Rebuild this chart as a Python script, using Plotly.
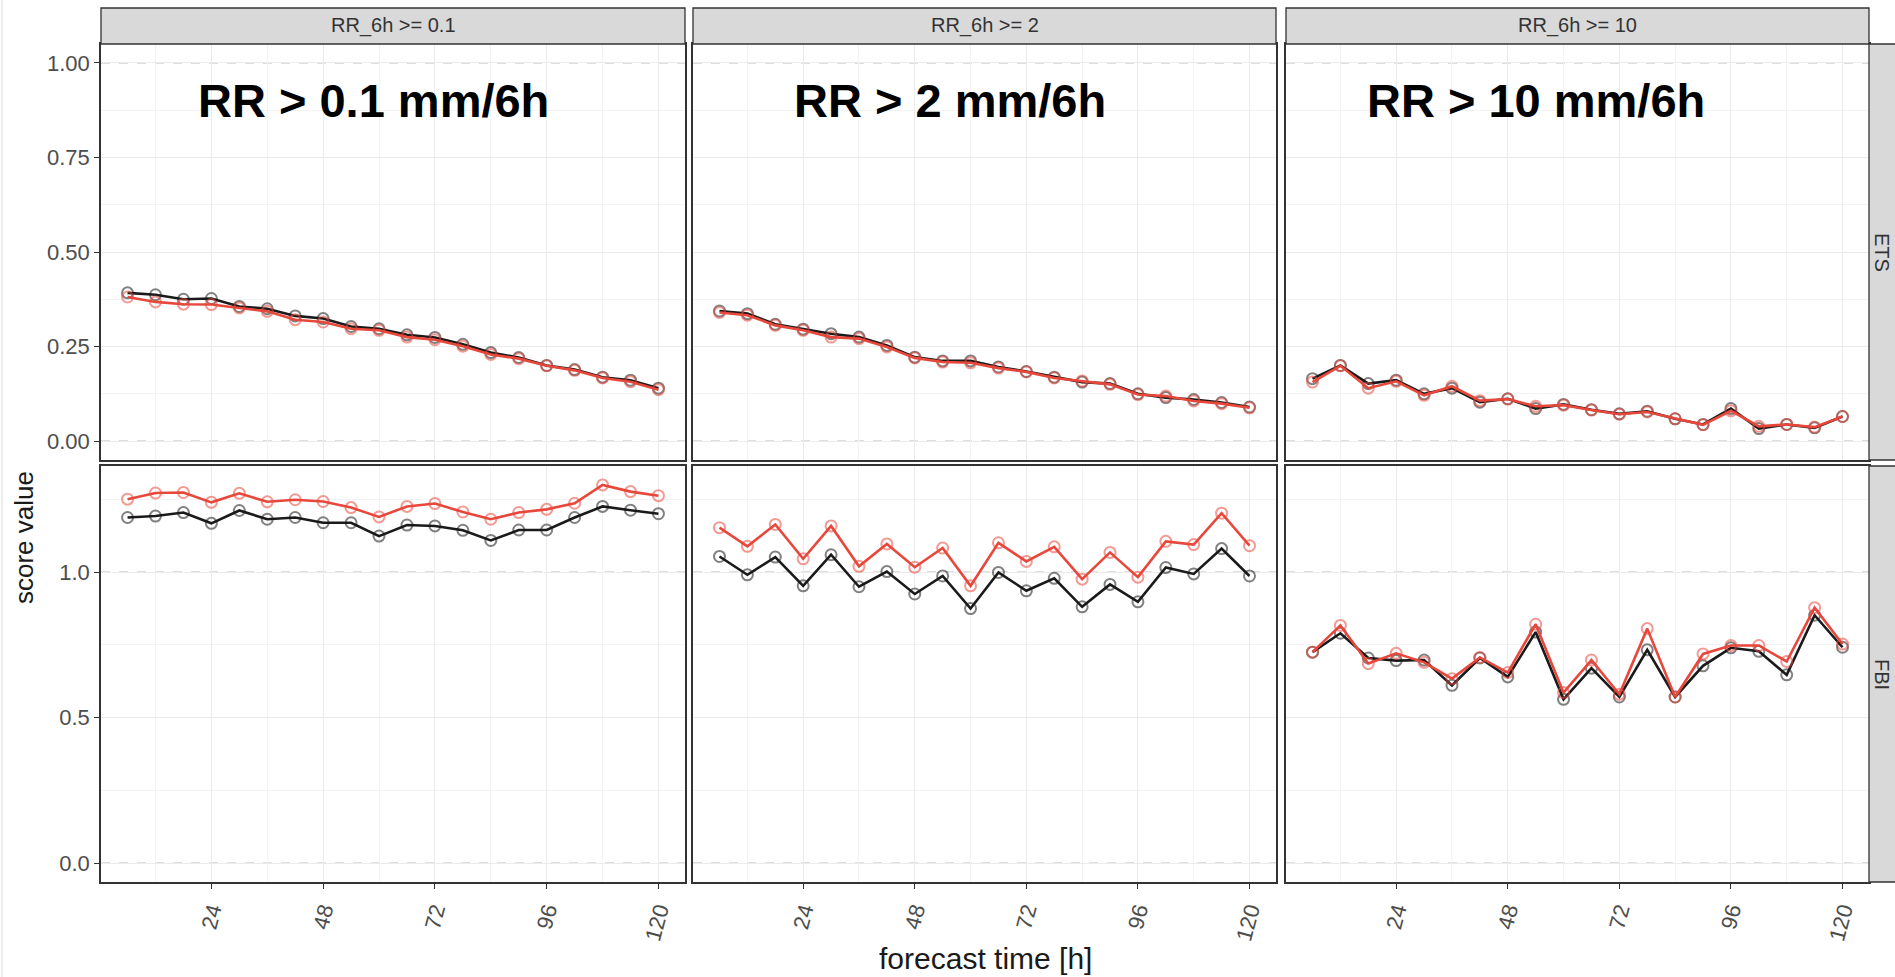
import plotly.graph_objects as go

W, H = 1895, 977

# ---------------- data ----------------
lead_time = [6, 12, 18, 24, 30, 36, 42, 48, 54, 60, 66, 72, 78, 84, 90, 96, 102, 108, 114, 120]
thresholds = ["RR_6h >= 0.1", "RR_6h >= 2", "RR_6h >= 10"]
panel_titles = ["RR > 0.1 mm/6h", "RR > 2 mm/6h", "RR > 10 mm/6h"]
scores = ["ETS", "FBI"]

ets_black_01 = [0.392, 0.387, 0.375, 0.377, 0.356, 0.350, 0.331, 0.324, 0.303, 0.297,
                0.281, 0.274, 0.256, 0.234, 0.221, 0.200, 0.189, 0.169, 0.161, 0.140]
ets_red_01 = [0.381, 0.368, 0.362, 0.361, 0.352, 0.343, 0.321, 0.315, 0.297, 0.293,
              0.275, 0.268, 0.251, 0.229, 0.218, 0.199, 0.187, 0.167, 0.157, 0.136]
ets_black_2 = [0.344, 0.337, 0.309, 0.296, 0.284, 0.275, 0.253, 0.222, 0.212, 0.212,
               0.196, 0.184, 0.169, 0.156, 0.152, 0.125, 0.115, 0.110, 0.102, 0.090]
ets_red_2 = [0.340, 0.333, 0.306, 0.293, 0.275, 0.271, 0.249, 0.220, 0.209, 0.207,
             0.193, 0.183, 0.167, 0.159, 0.150, 0.123, 0.119, 0.106, 0.099, 0.088]
ets_black_10 = [0.165, 0.200, 0.152, 0.161, 0.125, 0.140, 0.103, 0.112, 0.086, 0.097,
                0.083, 0.072, 0.079, 0.059, 0.044, 0.086, 0.033, 0.044, 0.035, 0.065]
ets_red_10 = [0.156, 0.199, 0.140, 0.158, 0.121, 0.145, 0.107, 0.111, 0.092, 0.095,
              0.082, 0.071, 0.077, 0.059, 0.043, 0.080, 0.039, 0.044, 0.037, 0.065]

fbi_black_01 = [1.188, 1.193, 1.205, 1.168, 1.212, 1.182, 1.188, 1.170, 1.170, 1.124,
                1.162, 1.159, 1.144, 1.109, 1.145, 1.145, 1.188, 1.226, 1.213, 1.201]
fbi_red_01 = [1.251, 1.272, 1.274, 1.240, 1.271, 1.242, 1.249, 1.243, 1.222, 1.190,
              1.226, 1.236, 1.207, 1.182, 1.205, 1.216, 1.237, 1.300, 1.277, 1.263]
fbi_black_2 = [1.054, 0.991, 1.052, 0.953, 1.060, 0.950, 1.002, 0.925, 0.987, 0.875,
               0.999, 0.936, 0.979, 0.881, 0.958, 0.898, 1.016, 0.994, 1.081, 0.987]
fbi_red_2 = [1.153, 1.089, 1.164, 1.046, 1.159, 1.020, 1.097, 1.017, 1.083, 0.953,
             1.101, 1.037, 1.087, 0.976, 1.068, 0.983, 1.106, 1.095, 1.203, 1.091]
fbi_black_10 = [0.725, 0.790, 0.705, 0.696, 0.698, 0.611, 0.705, 0.640, 0.794, 0.563,
                0.670, 0.571, 0.733, 0.571, 0.678, 0.740, 0.728, 0.647, 0.852, 0.742]
fbi_red_10 = [0.725, 0.817, 0.686, 0.721, 0.690, 0.634, 0.707, 0.655, 0.821, 0.586,
              0.698, 0.580, 0.806, 0.571, 0.719, 0.748, 0.748, 0.693, 0.878, 0.753]

ets_black = [ets_black_01, ets_black_2, ets_black_10]
ets_red = [ets_red_01, ets_red_2, ets_red_10]
fbi_black = [fbi_black_01, fbi_black_2, fbi_black_10]
fbi_red = [fbi_red_01, fbi_red_2, fbi_red_10]

x_ticks = [24, 48, 72, 96, 120]
ets_ticks = [0.0, 0.25, 0.5, 0.75, 1.0]
ets_ticktext = ["0.00", "0.25", "0.50", "0.75", "1.00"]
fbi_ticks = [0.0, 0.5, 1.0]
fbi_ticktext = ["0.0", "0.5", "1.0"]
ref_lines = [0.0, 1.0]

# ---------------- geometry helpers ----------------
def px(x):
    return x / W

def py(y):
    return 1 - y / H

col_px = [(101, 685), (693, 1276), (1286, 1869)]
row_px = [(44, 460), (466, 882)]  # ETS, FBI

BLACK = "#1a1a1a"
RED = "#E8473B"
FONT = "Liberation Sans, Arial, sans-serif"
GRID = "#EBEBEB"
MINOR = "#F3F3F3"
BORDER = "#333333"

fig = go.Figure()
layout = dict(
    width=W, height=H,
    margin=dict(l=0, r=0, t=0, b=0),
    paper_bgcolor="white", plot_bgcolor="white",
    showlegend=False,
    font=dict(family=FONT, color="#4D4D4D"),
)
shapes = []
annotations = []

yranges = [[-0.05, 1.05], [-0.065, 1.365]]
series = [(ets_black, ets_red), (fbi_black, fbi_red)]

idx = 0
for r in range(2):
    for c in range(3):
        idx += 1
        xa = "xaxis" if idx == 1 else f"xaxis{idx}"
        ya = "yaxis" if idx == 1 else f"yaxis{idx}"
        xref = "x" if idx == 1 else f"x{idx}"
        yref = "y" if idx == 1 else f"y{idx}"
        x0p, x1p = col_px[c]
        y0p, y1p = row_px[r]
        bottom = (r == 1)
        left = (c == 0)
        layout[xa] = dict(
            domain=[px(x0p), px(x1p)], anchor=yref,
            range=[0.3, 125.7], tickvals=x_ticks, ticktext=[str(v) for v in x_ticks],
            showticklabels=bottom, ticks="outside" if bottom else "",
            ticklen=5, tickwidth=1.3, tickcolor=BORDER,
            tickangle=-75, tickfont=dict(size=22, color="#4D4D4D", family=FONT),
            showgrid=True, gridcolor=GRID, gridwidth=1.3,
            minor=dict(tick0=0, dtick=12, showgrid=True, gridcolor=MINOR, gridwidth=1, ticks=""),
            showline=True, mirror=True, linecolor=BORDER, linewidth=1.5,
            zeroline=False, automargin=False, fixedrange=True,
        )
        if r == 0:
            yt, ytt, minor_dt = ets_ticks, ets_ticktext, 0.125
        else:
            yt, ytt, minor_dt = fbi_ticks, fbi_ticktext, 0.25
        layout[ya] = dict(
            domain=[py(y1p), py(y0p)], anchor=xref,
            range=yranges[r], tickvals=yt, ticktext=ytt,
            showticklabels=left, ticks="outside" if left else "",
            ticklen=5, tickwidth=1.3, tickcolor=BORDER,
            tickfont=dict(size=22, color="#4D4D4D", family=FONT),
            showgrid=True, gridcolor=GRID, gridwidth=1.3,
            minor=dict(tick0=0, dtick=minor_dt, showgrid=True, gridcolor=MINOR, gridwidth=1, ticks=""),
            showline=True, mirror=True, linecolor=BORDER, linewidth=1.5,
            zeroline=False, automargin=False, fixedrange=True,
        )
        for v in ref_lines:
            shapes.append(dict(type="line", xref=f"{xref} domain", yref=yref,
                               x0=0, x1=1, y0=v, y1=v, layer="below",
                               line=dict(color="#BDBDBD", width=1.3, dash="dash")))
        blk, red = series[r]
        for vals, col in ((blk[c], BLACK), (red[c], RED)):
            fig.add_trace(go.Scatter(
                x=lead_time, y=vals, xaxis=xref, yaxis=yref,
                mode="lines+markers",
                line=dict(color=col, width=2.6),
                marker=dict(symbol="circle-open", size=11, color=col, opacity=0.55,
                            line=dict(width=2, color=col)),
                hoverinfo="x+y",
            ))

# top strips
for c, (x0p, x1p) in enumerate(col_px):
    shapes.append(dict(type="rect", xref="paper", yref="paper",
                       x0=px(x0p), x1=px(x1p), y0=py(44), y1=py(8),
                       fillcolor="#D9D9D9", line=dict(color=BORDER, width=1.3)))
    annotations.append(dict(text=thresholds[c], xref="paper", yref="paper",
                            x=px((x0p + x1p) / 2), y=py(26), xanchor="center", yanchor="middle",
                            showarrow=False, font=dict(size=20, color="#333333", family=FONT)))

# right strips
for r, (y0p, y1p) in enumerate(row_px):
    shapes.append(dict(type="rect", xref="paper", yref="paper",
                       x0=px(1869), x1=px(1906), y0=py(y1p), y1=py(y0p),
                       fillcolor="#D9D9D9", line=dict(color=BORDER, width=1.3)))
    annotations.append(dict(text=scores[r], xref="paper", yref="paper",
                            x=px(1882), y=py((y0p + y1p) / 2), xanchor="center", yanchor="middle",
                            textangle=90, showarrow=False,
                            font=dict(size=20, color="#333333", family=FONT)))

# panel headline labels
title_centers = [373, 950, 1536]
for c in range(3):
    annotations.append(dict(text=f"<b>{panel_titles[c]}</b>", xref="paper", yref="paper",
                            x=px(title_centers[c]), y=py(100), xanchor="center", yanchor="middle",
                            showarrow=False, font=dict(size=47, color="black", family=FONT)))

# axis titles
annotations.append(dict(text="forecast time [h]", xref="paper", yref="paper",
                        x=px(985), y=0, xanchor="center", yanchor="bottom",
                        showarrow=False, font=dict(size=30, color="#1a1a1a", family=FONT)))
annotations.append(dict(text="score value", xref="paper", yref="paper",
                        x=px(24), y=py(538), xanchor="center", yanchor="middle",
                        textangle=-90, showarrow=False,
                        font=dict(size=26, color="#1a1a1a", family=FONT)))

# faint left image border
shapes.append(dict(type="line", xref="paper", yref="paper", x0=px(2), x1=px(2), y0=0, y1=1,
                   line=dict(color="#E6E6E6", width=1.5)))

layout["shapes"] = shapes
layout["annotations"] = annotations
fig.update_layout(**layout)

fig.write_html("out.html", config={"displayModeBar": False},
               post_script="document.body.style.margin='0';document.body.style.overflow='hidden';")
